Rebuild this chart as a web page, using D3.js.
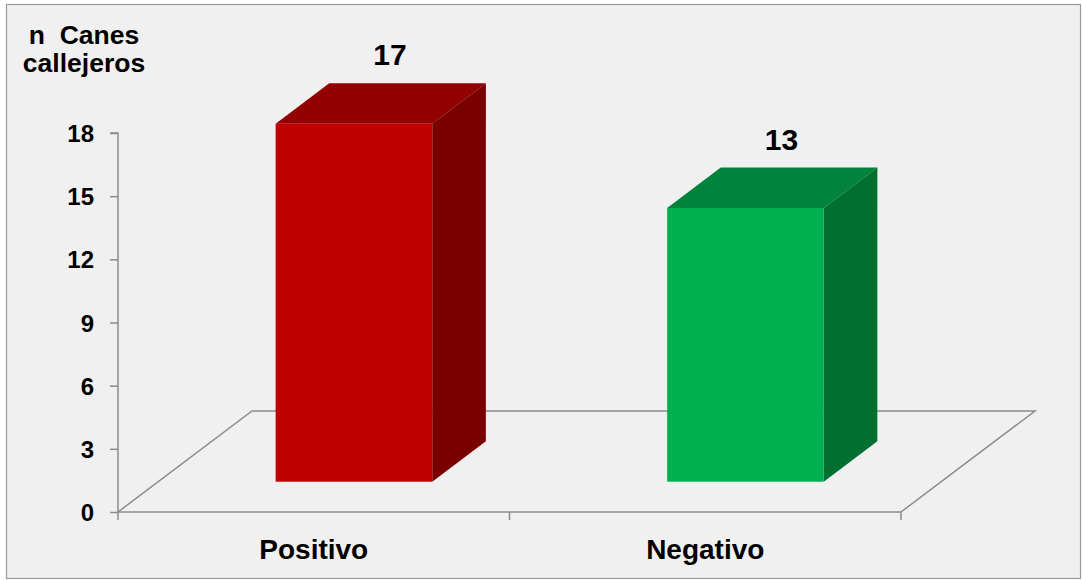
<!DOCTYPE html>
<html>
<head>
<meta charset="utf-8">
<script src="https://cdn.jsdelivr.net/npm/d3@7"></script>
<style>
  html, body { margin: 0; padding: 0; background: #ffffff; }
  svg { display: block; }
  text { font-family: "Liberation Sans", Arial, sans-serif; font-weight: bold; fill: #000; }
</style>
</head>
<body>
<svg id="chart" width="1082" height="580"></svg>
<script>
const categories = ["Positivo", "Negativo"];
const values = [17, 13];
const yTicks = [0, 3, 6, 9, 12, 15, 18];
const titleLines = ["n  Canes", "callejeros"];
const frontColors = ["#C00000", "#00B050"];
const topColors = ["#920000", "#00843C"];
const sideColors = ["#7A0000", "#007031"];

const svg = d3.select("#chart");

// chart area background + border
svg.append("rect").attr("x", 6.5).attr("y", 4.5).attr("width", 1074).attr("height", 574)
  .attr("fill", "#f0f0f0").attr("stroke", "#9a9a9a").attr("stroke-width", 1.2);

// 3D geometry
const left = 118, right = 901, baseY = 512;
const depthDx = 134, depthDy = -101;   // floor depth vector
const barFront = 0.3, barBack = 0.7;   // bar depth fraction
const axisColor = "#8c8c8c";

const x = d3.scaleBand().domain(categories).range([left, right]).paddingInner(0).paddingOuter(0);
const y = d3.scaleLinear().domain([0, 18]).range([baseY, 133]);

// floor
const floor = [[left, baseY], [left + depthDx, baseY + depthDy], [right + depthDx, baseY + depthDy], [right, baseY]];
svg.append("path").attr("d", d3.line()(floor)).attr("fill", "none")
  .attr("stroke", axisColor).attr("stroke-width", 1.5);

// y axis
const yAxis = d3.axisLeft(y).tickValues(yTicks).tickSize(8).tickPadding(16);
const gy = svg.append("g").attr("transform", `translate(${left},0)`).call(yAxis);
gy.select(".domain").attr("stroke", axisColor).attr("stroke-width", 1.5).attr("d", `M-8,${y(18)}H0V${baseY}`);
gy.selectAll(".tick line").attr("stroke", axisColor).attr("stroke-width", 1.5);
gy.selectAll(".tick text").style("font-size", "24px").style("font-family", '"Liberation Sans", Arial, sans-serif')
  .style("font-weight", "bold").attr("fill", "#000").attr("dy", "0.36em");

// x axis
const xAxis = d3.axisBottom(x).tickSize(0).tickPadding(20);
const gx = svg.append("g").attr("transform", `translate(0,${baseY})`).call(xAxis);
gx.select(".domain").attr("stroke", axisColor).attr("stroke-width", 1.5).attr("d", `M${left},0H${right}`);
gx.selectAll(".tick text").style("font-size", "28px").style("font-family", '"Liberation Sans", Arial, sans-serif')
  .style("font-weight", "bold").attr("fill", "#000").attr("dy", "0.95em");
// category boundary ticks
const bounds = [left].concat(categories.map(c => x(c) + x.bandwidth()));
gx.selectAll(".bound").data(bounds).enter().append("line")
  .attr("x1", d => d).attr("x2", d => d).attr("y1", 0).attr("y2", 8)
  .attr("stroke", axisColor).attr("stroke-width", 1.5);

// bars
const fdx = depthDx * barFront, fdy = depthDy * barFront;
const bdx = depthDx * (barBack - barFront), bdy = depthDy * (barBack - barFront);
const barW = x.bandwidth() * 0.4;

const g = svg.append("g");
categories.forEach((c, i) => {
  const cx = x(c) + x.bandwidth() / 2 + fdx;
  const x0 = cx - barW / 2, x1 = cx + barW / 2;
  const yb = y(0) + fdy, yt = y(values[i]) + fdy;
  // top face
  g.append("path").attr("d", d3.line()([[x0, yt], [x0 + bdx, yt + bdy], [x1 + bdx, yt + bdy], [x1, yt]]) + "Z")
    .attr("fill", topColors[i]);
  // side face
  g.append("path").attr("d", d3.line()([[x1, yt], [x1 + bdx, yt + bdy], [x1 + bdx, yb + bdy], [x1, yb]]) + "Z")
    .attr("fill", sideColors[i]);
  // front face
  g.append("rect").attr("x", x0).attr("y", yt).attr("width", barW).attr("height", yb - yt)
    .attr("fill", frontColors[i]);
  // value label
  g.append("text").attr("x", cx + 36).attr("y", yt + bdy - 18)
    .attr("text-anchor", "middle").style("font-size", "30px").text(values[i]);
});

// axis title
const t = svg.append("text").attr("text-anchor", "middle").style("font-size", "26.5px");
titleLines.forEach((l, i) => {
  t.append("tspan").attr("x", 84).attr("y", 44 + i * 28).attr("xml:space", "preserve").text(l);
});
</script>
</body>
</html>
